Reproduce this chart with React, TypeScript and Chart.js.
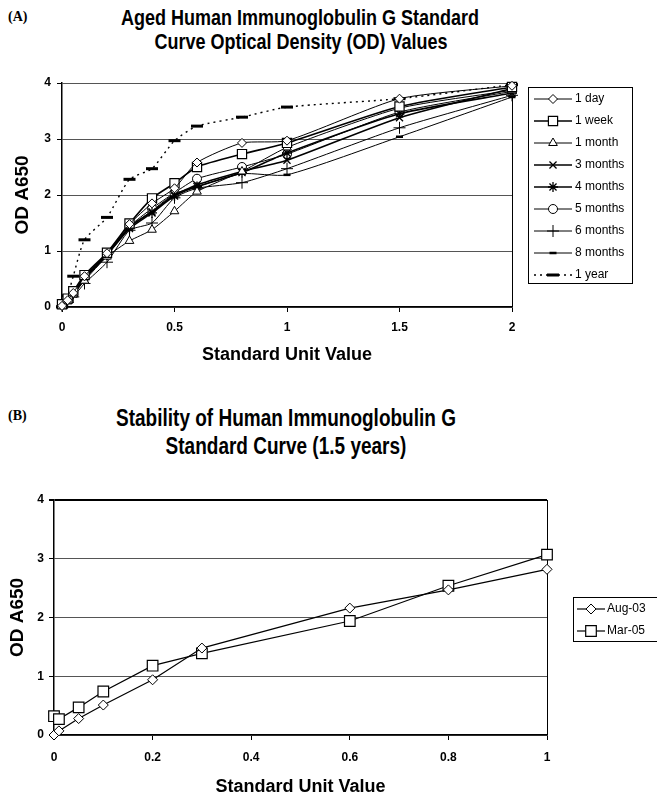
import React, { useEffect, useRef } from 'react';
import { Chart, registerables } from 'chart.js';
import { drawPoint } from 'chart.js/helpers';

Chart.register(...registerables);

const FONT = '"Liberation Sans", Arial, Helvetica, sans-serif';

// ---------- Chart A data ----------
const xA = [0, 0.025, 0.05, 0.1, 0.2, 0.3, 0.4, 0.5, 0.6, 0.8, 1, 1.5, 2];
const day1 = [0.02, 0.12, 0.25, 0.55, 0.96, 1.48, 1.85, 2.12, 2.58, 2.93, 2.97, 3.72, 3.95];
const week1 = [0.05, 0.15, 0.28, 0.57, 0.97, 1.49, 1.94, 2.21, 2.5, 2.73, 2.93, 3.58, 3.93];
const month1 = [0.03, 0.1, 0.22, 0.47, 0.9, 1.18, 1.38, 1.71, 2.06, 2.42, 2.85, 3.55, 3.87];
const months3 = [0.04, 0.13, 0.24, 0.52, 0.94, 1.43, 1.7, 2.0, 2.18, 2.42, 2.62, 3.38, 3.9];
const months4 = [0.03, 0.12, 0.23, 0.5, 0.93, 1.4, 1.68, 1.98, 2.15, 2.4, 2.75, 3.45, 3.82];
const months5 = [0.04, 0.14, 0.26, 0.54, 0.95, 1.44, 1.76, 2.04, 2.29, 2.5, 2.73, 3.48, 3.85];
const months6 = [0.02, 0.08, 0.18, 0.42, 0.8, 1.37, 1.5, 1.95, 2.12, 2.22, 2.47, 3.2, 3.78];
const months8 = [0.03, 0.11, 0.2, 0.5, 0.92, 1.42, 1.72, 2.02, 2.15, 2.38, 2.36, 3.04, 3.75];
const year1 = [0.0, 0.2, 0.55, 1.2, 1.6, 2.28, 2.47, 2.97, 3.23, 3.39, 3.57, 3.72, 3.97];

const labelsA = ['1 day', '1 week', '1 month', '3 months', '4 months', '5 months', '6 months', '8 months', '1 year'];
const seriesA = [day1, week1, month1, months3, months4, months5, months6, months8, year1];

const xTicksA = [0, 0.5, 1, 1.5, 2];
const yTicks = [0, 1, 2, 3, 4];

// ---------- Chart B data ----------
const xB = [0, 0.01, 0.05, 0.1, 0.2, 0.3, 0.6, 0.8, 1];
const aug03 = [0, 0.07, 0.28, 0.51, 0.94, 1.48, 2.16, 2.47, 2.82];
const mar05 = [0.32, 0.27, 0.47, 0.74, 1.18, 1.39, 1.94, 2.54, 3.07];
const labelsB = ['Aug-03', 'Mar-05'];
const seriesB = [aug03, mar05];
const xTicksB = [0, 0.2, 0.4, 0.6, 0.8, 1];

// ---------- styles ----------
const stylesA = [
  { ps: 'rectRot', r: 4.5, lw: 1, pw: 1, dash: [] as number[] },
  { ps: 'rect', r: 6.5, lw: 1.6, pw: 1.2, dash: [] as number[] },
  { ps: 'triangle', r: 5, lw: 1, pw: 1, dash: [] as number[] },
  { ps: 'crossRot', r: 5, lw: 1.6, pw: 1.3, dash: [] as number[] },
  { ps: 'star', r: 5, lw: 1.6, pw: 1.3, dash: [] as number[] },
  { ps: 'circle', r: 4.5, lw: 1, pw: 1, dash: [] as number[] },
  { ps: 'cross', r: 6, lw: 1, pw: 1, dash: [] as number[] },
  { ps: 'line', r: 3.5, lw: 1, pw: 2.5, dash: [] as number[] },
  { ps: 'line', r: 6, lw: 1.4, pw: 3, dash: [2, 4] },
];
const stylesB = [
  { ps: 'rectRot', r: 5, lw: 1.2, pw: 1, dash: [] as number[] },
  { ps: 'rect', r: 7.5, lw: 1.2, pw: 1.2, dash: [] as number[] },
];

const boxLegend = {
  id: 'boxLegend',
  afterDraw(chart: any, _args: any, opts: any) {
    const { ctx } = chart;
    const { x, y, w, h, rowH, lineX0, lineX1, textX } = opts;
    ctx.save();
    ctx.fillStyle = '#fff';
    ctx.fillRect(x, y, w, h);
    ctx.strokeStyle = '#000';
    ctx.lineWidth = 1;
    ctx.strokeRect(x + 0.5, y + 0.5, w, h);
    chart.data.datasets.forEach((ds: any, i: number) => {
      const cy = y + rowH / 2 + i * rowH + 1;
      ctx.beginPath();
      ctx.setLineDash(ds.borderDash || []);
      ctx.lineWidth = ds.borderWidth;
      ctx.strokeStyle = ds.borderColor;
      ctx.moveTo(lineX0, cy);
      ctx.lineTo(lineX1, cy);
      ctx.stroke();
      ctx.setLineDash([]);
      ctx.fillStyle = ds.pointBackgroundColor;
      ctx.strokeStyle = ds.pointBorderColor;
      ctx.lineWidth = ds.pointBorderWidth;
      drawPoint(ctx, { pointStyle: ds.pointStyle, radius: ds.pointRadius, rotation: 0, borderWidth: ds.pointBorderWidth } as any, (lineX0 + lineX1) / 2, cy);
      ctx.fillStyle = '#000';
      ctx.font = `12px ${FONT}`;
      ctx.textBaseline = 'middle';
      ctx.textAlign = 'left';
      ctx.fillText(ds.label, textX, cy);
    });
    ctx.restore();
  },
};

function makeDatasets(xs: number[], series: number[][], labels: string[], styles: any[], tension: number) {
  return series.map((vals, i) => ({
    label: labels[i],
    data: vals.map((v, j) => ({ x: xs[j], y: v })),
    showLine: true,
    borderColor: '#000',
    borderWidth: styles[i].lw,
    borderDash: styles[i].dash,
    pointStyle: styles[i].ps,
    pointRadius: styles[i].r,
    pointBorderWidth: styles[i].pw,
    pointBackgroundColor: '#fff',
    pointBorderColor: '#000',
    tension,
    clip: false as any,
  }));
}

function axisOpts(p: {
  min: number; max: number; ticks: number[]; fit: number; horizontal: boolean;
  tickPad: number; title: string; titleSize: number; titlePad: any; grid: any;
}) {
  return {
    type: 'linear' as const,
    min: p.min,
    max: p.max,
    afterBuildTicks: (s: any) => { s.ticks = p.ticks.map((v) => ({ value: v })); },
    afterFit: (s: any) => { if (p.horizontal) s.height = p.fit; else s.width = p.fit; },
    grid: p.grid,
    border: { color: '#000', width: 1.5 },
    ticks: {
      color: '#000',
      font: { family: FONT, size: 12, weight: 'bold' as const },
      padding: p.tickPad,
      maxRotation: 0,
      autoSkip: false,
      callback: (v: any) => String(v),
    },
    title: {
      display: true,
      text: p.title,
      color: '#000',
      font: { family: FONT, size: p.titleSize, weight: 'bold' as const },
      padding: p.titlePad,
    },
  };
}

function ChartCanvas({ build, width, height, style }: any) {
  const ref = useRef<HTMLCanvasElement | null>(null);
  useEffect(() => {
    if (!ref.current) return;
    const chart = new Chart(ref.current, build());
    return () => chart.destroy();
  }, []);
  return <canvas ref={ref} width={width} height={height} style={{ position: 'absolute', width, height, ...style }} />;
}

function buildA() {
  return {
    type: 'scatter' as const,
    data: { datasets: makeDatasets(xA, seriesA, labelsA, stylesA, 0.2) },
    options: {
      animation: false as const,
      responsive: false,
      events: [],
      layout: { padding: { left: 0, top: 23, right: 145, bottom: 0 } },
      plugins: {
        legend: { display: false },
        tooltip: { enabled: false },
        boxLegend: { x: 528, y: 27, w: 104, h: 196, rowH: 22, lineX0: 534, lineX1: 572, textX: 575 },
      },
      scales: {
        x: axisOpts({
          min: 0, max: 2, ticks: xTicksA, fit: 73, horizontal: true, tickPad: 8,
          title: 'Standard Unit Value', titleSize: 18, titlePad: { top: 0, bottom: 14 },
          grid: {
            drawOnChartArea: true,
            color: (c: any) => (c.tick && c.tick.value === 2 ? '#000' : 'rgba(0,0,0,0)'),
            tickColor: '#000', tickLength: 5, lineWidth: 1,
          },
        }),
        y: axisOpts({
          min: 0, max: 4, ticks: yTicks, fit: 62, horizontal: false, tickPad: 6,
          title: 'OD A650', titleSize: 19, titlePad: { top: 11, bottom: 0 },
          grid: { color: '#555', tickColor: '#000', tickLength: 5, lineWidth: 1 },
        }),
      },
    },
    plugins: [boxLegend],
  };
}

function buildB() {
  return {
    type: 'scatter' as const,
    data: { datasets: makeDatasets(xB, seriesB, labelsB, stylesB, 0) },
    options: {
      animation: false as const,
      responsive: false,
      events: [],
      layout: { padding: { left: 0, top: 30, right: 110, bottom: 0 } },
      plugins: {
        legend: { display: false },
        tooltip: { enabled: false },
        boxLegend: { x: 573, y: 127, w: 100, h: 44, rowH: 22, lineX0: 577, lineX1: 605, textX: 607 },
      },
      scales: {
        x: axisOpts({
          min: 0, max: 1, ticks: xTicksB, fit: 64, horizontal: true, tickPad: 10,
          title: 'Standard Unit Value', titleSize: 18, titlePad: { top: 0, bottom: 1 },
          grid: {
            drawOnChartArea: true,
            color: (c: any) => (c.tick && c.tick.value === 1 ? '#000' : 'rgba(0,0,0,0)'),
            tickColor: '#000', tickLength: 5, lineWidth: 1,
          },
        }),
        y: axisOpts({
          min: 0, max: 4, ticks: yTicks, fit: 54, horizontal: false, tickPad: 5,
          title: 'OD A650', titleSize: 19, titlePad: { top: 6, bottom: 0 },
          grid: {
            color: (c: any) => (c.tick && c.tick.value === 4 ? '#000' : '#555'),
            lineWidth: (c: any) => (c.tick && c.tick.value === 4 ? 2 : 1),
            tickColor: '#000', tickLength: 5,
          },
        }),
      },
    },
    plugins: [boxLegend],
  };
}

function TitleLine({ text, cx, cy, size, stretch }: any) {
  const lh = 26;
  return (
    <div
      style={{
        position: 'absolute',
        left: cx - 300,
        width: 600,
        top: cy - lh / 2,
        height: lh,
        lineHeight: `${lh}px`,
        textAlign: 'center',
        fontFamily: FONT,
        fontWeight: 'bold',
        fontSize: size,
        color: '#000',
        whiteSpace: 'nowrap',
        transform: `scaleY(${stretch})`,
        transformOrigin: 'center center',
      }}
    >
      {text}
    </div>
  );
}

function PanelTag({ text, top }: any) {
  return (
    <div
      style={{
        position: 'absolute',
        left: 8,
        top: top - 10,
        height: 20,
        lineHeight: '20px',
        fontFamily: '"Liberation Serif", "Times New Roman", serif',
        fontWeight: 'bold',
        fontSize: 14,
        color: '#000',
      }}
    >
      {text}
    </div>
  );
}

export default function App() {
  return (
    <div style={{ position: 'absolute', left: 0, top: 0, width: 657, height: 799, background: '#fff', overflow: 'hidden' }}>
      <PanelTag text="(A)" top={17} />
      <TitleLine text="Aged Human Immunoglobulin G Standard" cx={300} cy={18} size={18} stretch={1.2} />
      <TitleLine text="Curve Optical Density (OD) Values" cx={301} cy={42} size={18} stretch={1.2} />
      <ChartCanvas build={buildA} width={657} height={320} style={{ left: 0, top: 60 }} />
      <PanelTag text="(B)" top={416} />
      <TitleLine text="Stability of Human Immunoglobulin G" cx={286} cy={418} size={19} stretch={1.3} />
      <TitleLine text="Standard Curve (1.5 years)" cx={286} cy={446} size={19} stretch={1.3} />
      <ChartCanvas build={buildB} width={657} height={329} style={{ left: 0, top: 470 }} />
    </div>
  );
}
